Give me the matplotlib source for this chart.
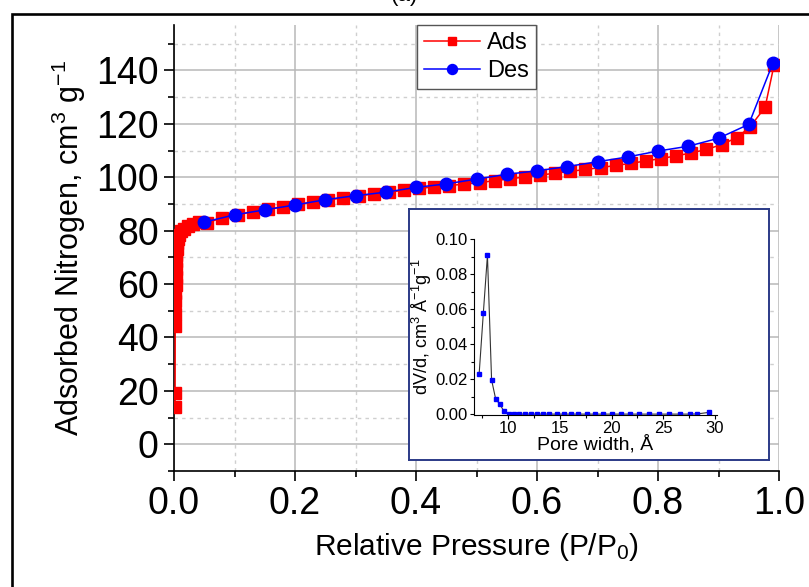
import matplotlib
matplotlib.use("Agg")
import matplotlib.pyplot as plt
from matplotlib.patches import Rectangle
from matplotlib.ticker import MultipleLocator

plt.rcParams['font.family'] = ['Liberation Sans', 'DejaVu Sans']
plt.rcParams['mathtext.fontset'] = 'custom'
plt.rcParams['mathtext.rm'] = 'Liberation Sans'
plt.rcParams['mathtext.it'] = 'Liberation Sans:italic'

# adsorption branch
ads_p = [0.0018, 0.0018, 0.002, 0.002, 0.0022, 0.0024, 0.0026, 0.0028, 0.003, 0.0033,
         0.0037, 0.0042, 0.005, 0.006, 0.008, 0.011, 0.016, 0.023, 0.032, 0.042,
         0.055, 0.08, 0.105, 0.13, 0.155, 0.18, 0.205, 0.23, 0.255, 0.28,
         0.305, 0.33, 0.355, 0.38, 0.405, 0.43, 0.455, 0.48, 0.505, 0.53,
         0.555, 0.58, 0.605, 0.63, 0.655, 0.68, 0.705, 0.73, 0.755, 0.78,
         0.805, 0.83, 0.855, 0.88, 0.905, 0.93, 0.952, 0.977, 0.992]
ads_v = [14.0, 19.2, 44.2, 48.8, 53.5, 56.5, 59.5, 62.5, 65.5, 68.5,
         71.0, 73.3, 75.3, 77.0, 78.5, 79.7, 80.8, 81.8, 82.6, 83.2,
         83.0, 84.8, 86.0, 87.0, 88.0, 88.9, 89.8, 90.7, 91.5, 92.3,
         93.0, 93.7, 94.4, 95.1, 95.8, 96.4, 96.9, 97.4, 98.0, 98.7,
         99.4, 100.1, 100.8, 101.5, 102.2, 102.9, 103.6, 104.4, 105.2, 106.1,
         107.0, 108.0, 109.1, 110.4, 112.2, 114.8, 118.8, 126.2, 142.2]

# desorption branch
des_p = [0.99, 0.95, 0.90, 0.85, 0.80, 0.75, 0.70, 0.65, 0.60, 0.55,
         0.50, 0.45, 0.40, 0.35, 0.30, 0.25, 0.20, 0.15, 0.10, 0.05]
des_v = [142.8, 119.8, 114.6, 111.6, 109.8, 107.6, 105.8, 104.0, 102.4, 101.1,
         99.3, 97.5, 96.2, 94.4, 93.1, 91.6, 89.6, 87.8, 85.9, 83.2]

# pore size distribution (inset)
pore_w = [7.2, 7.6, 8.0, 8.4, 8.8, 9.2, 9.6, 10.1, 10.6, 11.1, 11.6, 12.2, 12.8,
          13.4, 14.0, 14.7, 15.4, 16.1, 16.8, 17.6, 18.4, 19.2, 20.0, 20.9,
          21.8, 22.7, 23.6, 24.6, 25.6, 26.6, 27.6, 28.3, 29.4]
pore_dv = [0.0233, 0.0576, 0.0907, 0.0197, 0.0087, 0.0059, 0.0017, 0.0003,
           0.0002, 0.0002, 0.0002, 0.0002, 0.0002, 0.0002, 0.0002, 0.0002,
           0.0002, 0.0002, 0.0002, 0.0002, 0.0002, 0.0002, 0.0002, 0.0002,
           0.0002, 0.0002, 0.0002, 0.0002, 0.0002, 0.0002, 0.0002, 0.0003, 0.0012]

fig = plt.figure(figsize=(8.09, 5.87), dpi=100)

# outer frame of the panel
fig.patches.append(Rectangle((12/809, -0.1), 1.2, 1.1 - 13.5/587, transform=fig.transFigure,
                             fill=False, edgecolor='black', linewidth=1.9, clip_on=False))
fig.text(0.5, 0.989, '(a)', ha='center', va='bottom', fontsize=16)

ax = fig.add_axes([174/809, 1 - 471/587, 605/809, 446/587])

ax.plot(ads_p, ads_v, color='#ff0000', marker='s', markersize=8, linewidth=1.1,
        label='Ads', zorder=3)
ax.plot(des_p, des_v, color='#0000ff', marker='o', markersize=9, linewidth=1.1,
        label='Des', zorder=4)

ax.set_xlim(0, 1.0)
ax.set_ylim(-10, 157)
ax.xaxis.set_major_locator(MultipleLocator(0.2))
ax.xaxis.set_minor_locator(MultipleLocator(0.1))
ax.yaxis.set_major_locator(MultipleLocator(20))
ax.yaxis.set_minor_locator(MultipleLocator(10))
ax.set_xticks([0, 0.2, 0.4, 0.6, 0.8, 1.0])
ax.set_xticklabels(['0.0', '0.2', '0.4', '0.6', '0.8', '1.0'])

ax.grid(which='major', color='#b8b8b8', linewidth=1.1, linestyle='-')
ax.grid(which='minor', color='#cfcfcf', linewidth=1.0, linestyle=(0, (2.5, 3)))
ax.set_axisbelow(True)

for side in ['top', 'right']:
    ax.spines[side].set_visible(False)
for side in ['left', 'bottom']:
    ax.spines[side].set_linewidth(1.2)

ax.tick_params(which='major', direction='out', length=7, width=1.2, labelsize=27, pad=4)
ax.tick_params(which='minor', direction='out', length=4, width=1.2)

ax.set_xlabel('Relative Pressure (P/P$_0$)', fontsize=21.5, labelpad=6)
ax.set_ylabel('Adsorbed Nitrogen, cm$^3$ g$^{-1}$', fontsize=22, labelpad=6)

leg = ax.legend(loc='upper center', bbox_to_anchor=(0.5, 1.0), borderaxespad=0,
                fontsize=17, handlelength=2.4, markerscale=0.8, fancybox=False,
                framealpha=1, edgecolor='#555555', handletextpad=0.3,
                labelspacing=0.25, borderpad=0.3)
leg.get_frame().set_linewidth(1.0)

# inset frame
box = fig.add_axes([409/809, 1 - 460/587, 360/809, 251/587])
box.set_xticks([])
box.set_yticks([])
box.set_facecolor('white')
for s in box.spines.values():
    s.set_edgecolor('#2b3a87')
    s.set_linewidth(1.4)

ins = fig.add_axes([474/809, 1 - 415/587, 243/809, 176/587])
ins.patch.set_alpha(0)
ins.plot(pore_w, pore_dv, color='#333333', linewidth=0.8, marker='s', markersize=3.2,
         markerfacecolor='#0000ff', markeredgecolor='#0000ff')
ins.set_xlim(6.7, 30.2)
ins.set_ylim(-0.0003, 0.1)
ins.xaxis.set_major_locator(MultipleLocator(5))
ins.xaxis.set_minor_locator(MultipleLocator(2.5))
ins.yaxis.set_major_locator(MultipleLocator(0.02))
ins.yaxis.set_minor_locator(MultipleLocator(0.01))
ins.set_yticks([0, 0.02, 0.04, 0.06, 0.08, 0.10])
ins.set_yticklabels(['0.00', '0.02', '0.04', '0.06', '0.08', '0.10'])
for side in ['top', 'right']:
    ins.spines[side].set_visible(False)
ins.tick_params(which='major', direction='out', length=3, width=0.8, labelsize=12, pad=1.5)
ins.tick_params(which='minor', direction='out', length=2, width=0.8)
ins.set_xlabel('Pore width, Å', fontsize=14, labelpad=-1)
ins.set_ylabel('dV/d, cm$^3$ Å$^{-1}$g$^{-1}$', fontsize=13, labelpad=1)

fig.savefig('out.png', dpi=100)
